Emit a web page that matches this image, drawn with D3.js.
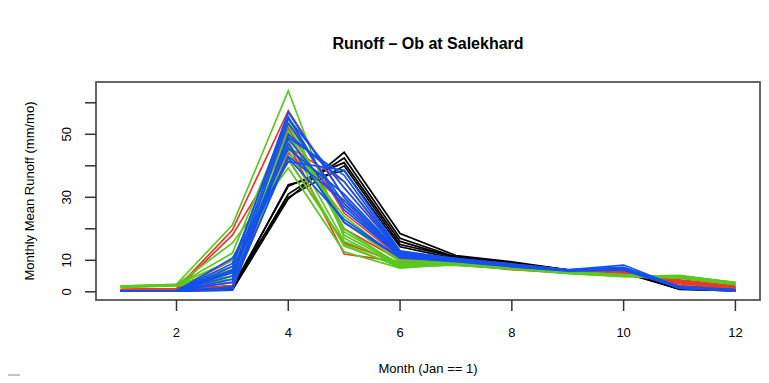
<!DOCTYPE html>
<html>
<head>
  <meta charset="utf-8">
  <script src="https://d3js.org/d3.v7.min.js"></script>
  <style>
    body { margin: 0; background: #fff; }
    text { font-family: "Liberation Sans", Arial, sans-serif; fill: #000; }
  </style>
</head>
<body>
<script>
  // months on the x axis
  var months = [1,2,3,4,5,6,7,8,9,10,11,12];
  var xTicks = [2,4,6,8,10,12];
  var yTicks = [0,10,20,30,40,50,60];
  var yLabels = [0,10,30,50];

  // black group
  var blackRuns = [
    [0.3,0.3,0.5,29.5,44.3,18.5,11.5,9.5,7,6.5,1,0.5],
    [0.3,0.3,1,31,42.5,17,11,9.2,7,6.3,0.8,0.4],
    [0.4,0.4,1.5,33.5,41,16,10.8,9,6.8,6.2,1,0.5],
    [0.3,0.3,0.8,34,38.5,14.3,10.5,8.8,6.8,6,0.9,0.3],
    [0.5,0.5,2,30,40,15,11,9,7,6.4,1.2,0.6]
  ];
  // red group
  var redRuns = [
    [0.8,1,19.6,57.5,30,10,9,7.5,6.5,5.5,3,1.5],
    [0.6,0.8,18,47,12,9.5,9,7,6,5.3,3.5,1.8],
    [0.5,0.9,10,42,15.5,9,8.5,7.2,6.3,5.5,3.2,1.5],
    [0.7,1,5,55,25,11,9.5,7.8,6.5,6,2.5,1.2],
    [0.4,0.7,3,50,20,10,9,7.5,6.4,5.8,3,1.4],
    [0.5,0.8,1.5,44,28,11.5,9.8,8,6.6,6.2,2.8,1.3],
    [0.6,0.9,7,52,22,10.5,9.2,7.6,6.4,5.2,3.8,2],
    [0.5,0.6,2,46,35,12,10,8.2,6.8,6.5,2,1]
  ];
  // green group
  var greenRuns = [
    [1.8,2.4,21.2,63.8,17,8,9,7.5,6,5,5,3],
    [1.6,2.2,15.5,39.3,12.7,7.5,8.8,7.3,5.8,4.8,5.2,2.9],
    [1.7,2,12.3,55,18,8.5,9,7.6,6.1,5.2,4.8,2.7],
    [1.5,2.1,8,48,16,9,9.2,7.8,6.2,5,4.5,2.5],
    [1.6,2.3,6,53,20,8.2,8.8,7.5,6,5.1,4.9,2.8],
    [1.4,1.9,4,45,14.5,8,8.5,7.2,5.9,5,4.3,2.4],
    [1.7,2.2,10,50,22,9.5,9.5,8,6.3,5.5,4.6,2.6],
    [1.5,2,5,42,15,7.8,8.6,7.4,6,4.9,5,2.9],
    [1.8,2.4,3,47,24,10,10,8.3,6.5,5.4,4.4,2.3],
    [1.6,2.1,7,51,19,8.8,9.1,7.7,6.1,5.1,4.7,2.6]
  ];
  // blue group
  var blueRuns = [
    [0.3,0.3,10.7,41.3,38.6,13,10.5,8.8,7,8.5,1.5,0.5],
    [0.2,0.2,8,57,30,12,10.2,8.5,6.8,7.5,1.3,0.4],
    [0.3,0.4,6,55,33,12.5,10.5,8.7,7,7.8,1.6,0.6],
    [0.2,0.3,4,53.5,28,11.5,10,8.3,6.8,7.2,1.2,0.3],
    [0.2,0.2,1,50,35,12.8,10.4,8.6,6.9,7.6,1.1,0.2],
    [0.3,0.4,5,48.5,27,11.2,10,8.4,6.8,7.3,1.5,0.6],
    [0.2,0.2,3,47,22,10.8,9.6,8,6.6,6.9,1.3,0.4],
    [0.3,0.3,7,45.5,31,12.2,10.3,8.5,6.9,7.4,1.7,0.7],
    [0.3,0.3,1.5,43,29,11.8,10.1,8.4,6.8,7.5,1.4,0.5],
    [0.3,0.4,9,55.5,26,11.4,9.9,8.3,6.8,7.2,1.3,0.4],
    [0.2,0.2,0.5,49,37,12.6,10.6,8.8,7,7.7,1.2,0.3],
    [0.2,0.3,6.5,42.5,23,10.8,9.7,8,6.6,7,1.4,0.4]
  ];

  var groups = [
    {runs: blackRuns, color: "#000000"},
    {runs: redRuns, color: "#e63c2c"},
    {runs: greenRuns, color: "#5cc81e"},
    {runs: blueRuns, color: "#1450f0"}
  ];

  var w = 769, h = 383;
  var svg = d3.select("body").append("svg").attr("width", w).attr("height", h);

  var box = {left: 96, right: 760, top: 82, bottom: 300};
  // R style 4% padding around the data range
  var x = d3.scaleLinear().domain([0.56, 12.44]).range([box.left, box.right]);
  var y = d3.scaleLinear().domain([-2.6, 66.6]).range([box.bottom, box.top]);

  var line = d3.line().x(function(d, i) { return x(months[i]); }).y(function(d) { return y(d); });

  var plot = svg.append("g");
  groups.forEach(function(g) {
    plot.selectAll(null).data(g.runs).enter().append("path")
      .attr("d", line)
      .attr("fill", "none")
      .attr("stroke", g.color)
      .attr("stroke-width", 1.7)
      .attr("stroke-linejoin", "miter");
  });

  // frame
  svg.append("rect")
    .attr("x", box.left).attr("y", box.top)
    .attr("width", box.right - box.left).attr("height", box.bottom - box.top)
    .attr("fill", "none").attr("stroke", "#555").attr("stroke-width", 1.8);

  // x axis ticks
  var xa = svg.append("g");
  xa.selectAll("line").data(xTicks).enter().append("line")
    .attr("x1", x).attr("x2", x).attr("y1", box.bottom).attr("y2", box.bottom + 11)
    .attr("stroke", "#333").attr("stroke-width", 1.5);
  xa.selectAll("text").data(xTicks).enter().append("text")
    .attr("x", x).attr("y", 337)
    .attr("text-anchor", "middle").attr("font-size", 13)
    .text(function(d) { return d; });

  // y axis ticks
  var ya = svg.append("g");
  ya.selectAll("line").data(yTicks).enter().append("line")
    .attr("x1", box.left - 11).attr("x2", box.left).attr("y1", y).attr("y2", y)
    .attr("stroke", "#333").attr("stroke-width", 1.5);
  ya.selectAll("text").data(yLabels).enter().append("text")
    .attr("transform", function(d) { return "translate(71," + y(d) + ") rotate(-90)"; })
    .attr("text-anchor", "middle").attr("font-size", 13)
    .text(function(d) { return d; });

  // titles
  svg.append("text").attr("x", (box.left + box.right) / 2).attr("y", 49)
    .attr("text-anchor", "middle").attr("font-size", 16).attr("font-weight", "bold")
    .text("Runoff \u2013 Ob at Salekhard");
  svg.append("text").attr("x", (box.left + box.right) / 2).attr("y", 373)
    .attr("text-anchor", "middle").attr("font-size", 13)
    .text("Month (Jan == 1)");
  svg.append("text").attr("transform", "translate(34,191) rotate(-90)")
    .attr("text-anchor", "middle").attr("font-size", 13)
    .text("Monthly Mean Runoff (mm/mo)");

  // small stray dash bottom-left
  svg.append("line").attr("x1", 8).attr("x2", 20).attr("y1", 375).attr("y2", 375)
    .attr("stroke", "#888").attr("stroke-width", 1);
</script>
</body>
</html>
